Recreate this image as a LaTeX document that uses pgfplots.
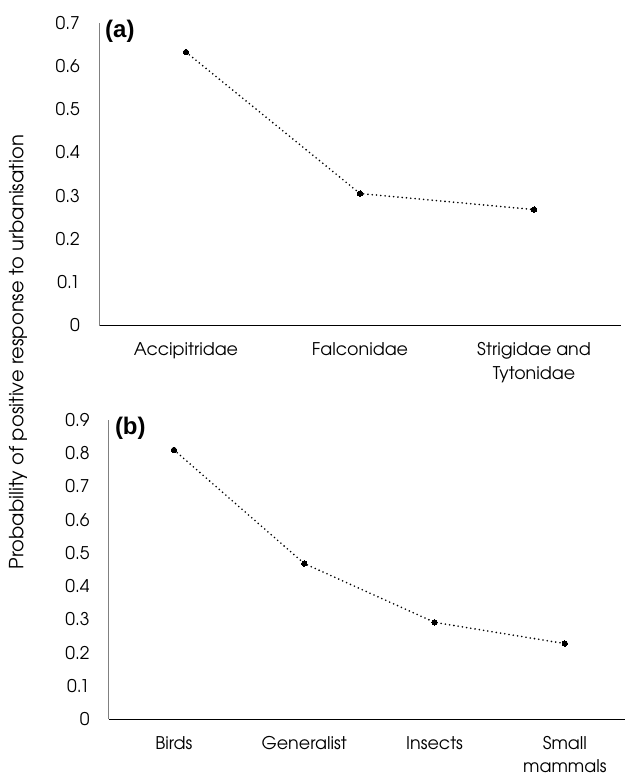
\documentclass[border=0pt]{standalone}
\usepackage{pgfplots}
\pgfplotsset{compat=1.18}
\usepackage{fontspec}
\setmainfont{texgyreadventor}[Extension=.otf, UprightFont=*-regular, BoldFont=*-bold]
\newfontfamily\labfont{Liberation Sans}
\definecolor{axgray}{RGB}{128,128,128}
\pgfplotsset{
  panel/.style={
    scale only axis,
    anchor=south west,
    axis x line*=bottom,
    axis y line*=left,
    x axis line style={-, black, line width=0.9pt},
    y axis line style={-, axgray, line width=0.9pt},
    major tick length=0pt,
    ymin=0,
    ytick distance=0.1,
    xtick=data,
    /pgf/number format/assume math mode=true,
    /pgf/number format/fixed,
    /pgf/number format/precision=1,
    tick label style={font=\fontsize{17.5}{23.5}\selectfont, text=black},
    y tick label style={anchor=east, inner sep=0pt, xshift=-19pt},
    x tick label style={anchor=north, inner sep=0pt, yshift=-17pt, align=center},
    clip=false,
  },
  series/.style={
    black, line width=1.8pt, dash pattern=on 0pt off 4.3pt, line cap=round,
    mark=*, mark size=2.7pt, mark options={solid, fill=black, draw=black, line width=0pt}
  }
}
\begin{document}
\begin{tikzpicture}
\useasboundingbox (0,0) rectangle (624pt,-775pt);
\begin{axis}[panel,
  at={(99pt,-325.5pt)},
  width=522pt, height=302.8pt,
  xmin=0.5, xmax=3.5, ymax=0.7,
  xticklabels={Accipitridae, Falconidae, {Strigidae and\\Tytonidae}},
]
\addplot[series] coordinates {(1,0.632) (2,0.305) (3,0.268)};
\node[anchor=west, inner sep=0pt, font=\labfont\bfseries\fontsize{24}{28}\selectfont] at (rel axis cs:0,1) [xshift=6pt, yshift=-9pt] {(a)};
\end{axis}
\begin{axis}[panel,
  at={(108.8pt,-719pt)},
  width=521.2pt, height=299pt,
  xmin=0.5, xmax=4.5, ymax=0.9,
  xticklabels={Birds, Generalist, Insects, {Small\\mammals}},
]
\addplot[series] coordinates {(1,0.810) (2,0.468) (3,0.291) (4,0.227)};
\node[anchor=west, inner sep=0pt, font=\labfont\bfseries\fontsize{24}{28}\selectfont] at (rel axis cs:0,1) [xshift=6pt, yshift=-8pt] {(b)};
\end{axis}
\node[rotate=90, font=\fontsize{19.5}{23}\selectfont, text=black] at (18pt,-352pt) {Probability of positive response to urbanisation};
\end{tikzpicture}
\end{document}
